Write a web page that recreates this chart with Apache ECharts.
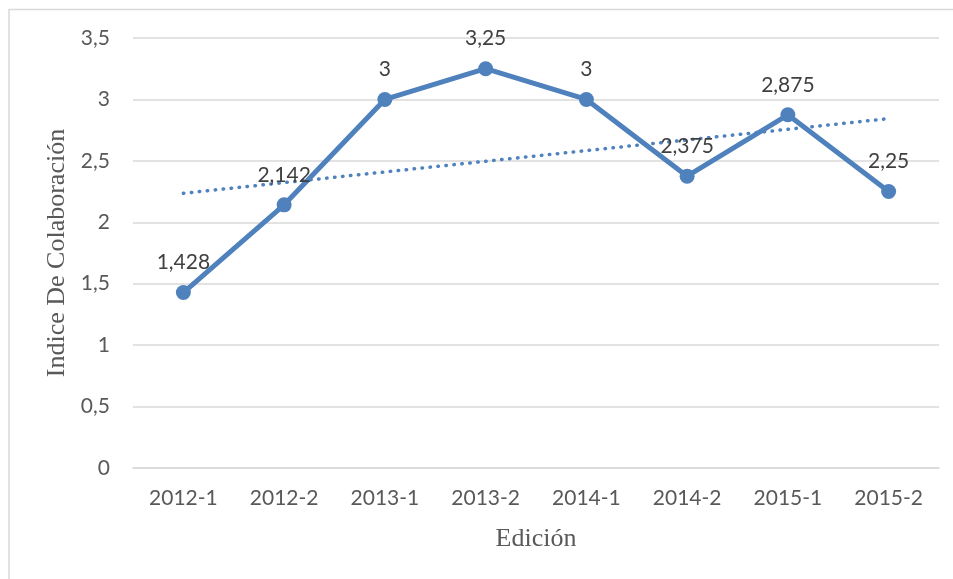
<!DOCTYPE html>
<html><head><meta charset="utf-8">
<script src="https://cdn.jsdelivr.net/npm/echarts@6/dist/echarts.min.js"></script>
<style>html,body{margin:0;padding:0;background:#fff}#c{width:953px;height:579px}</style>
</head><body><div id="c"></div>
<script>
const categories = ['2012-1','2012-2','2013-1','2013-2','2014-1','2014-2','2015-1','2015-2'];
const values = [1.428, 2.142, 3, 3.25, 3, 2.375, 2.875, 2.25];
const yTicks = [0, 0.5, 1, 1.5, 2, 2.5, 3, 3.5];

// linear trendline (least squares) computed from the series values
const n = values.length;
const mx = (n + 1) / 2;
const my = values.reduce((a, b) => a + b, 0) / n;
let sxy = 0, sxx = 0;
values.forEach((v, i) => { const x = i + 1; sxy += (x - mx) * (v - my); sxx += (x - mx) * (x - mx); });
const slope = sxy / sxx;
const trend = values.map((v, i) => my + slope * (i + 1 - mx));

const fmt = v => String(v).replace('.', ',');
const blue = '#4f81bd';
const chart = echarts.init(document.getElementById('c'));
chart.setOption({
  animation: false,
  backgroundColor: '#fff',
  graphic: [{type: 'rect', shape: {x: 9, y: 9.5, width: 1000, height: 700}, style: {fill: 'none', stroke: '#d9d9d9', lineWidth: 1.5}, z: -1}],
  grid: {left: 133, right: 14, top: 38, bottom: 111},
  xAxis: {
    type: 'category', data: categories, boundaryGap: true,
    name: 'Edición', nameLocation: 'middle', nameGap: 58,
    nameTextStyle: {fontFamily: 'Liberation Serif', fontSize: 26, color: '#595959'},
    axisLine: {show: true, lineStyle: {color: '#d9d9d9', width: 1.5}},
    axisTick: {show: false},
    axisLabel: {fontFamily: 'Lato', fontSize: 21, color: '#595959', margin: 20}
  },
  yAxis: {
    type: 'value', min: 0, max: 3.5, interval: 0.5,
    name: 'Indice De Colaboración', nameLocation: 'middle', nameGap: 60,
    nameTextStyle: {fontFamily: 'Liberation Serif', fontSize: 26, color: '#595959'},
    axisLine: {show: false}, axisTick: {show: false},
    splitLine: {lineStyle: {color: '#d9d9d9', width: 1.5}},
    axisLabel: {fontFamily: 'Lato', fontSize: 21, color: '#595959', margin: 23, formatter: v => fmt(v)}
  },
  series: [
    {
      type: 'line', data: trend, symbol: 'none', z: 1,
      lineStyle: {color: blue, width: 3.5, type: [0.5, 7.5], cap: 'round'}
    },
    {
      type: 'line', data: values, symbol: 'circle', symbolSize: 15, z: 3,
      itemStyle: {color: blue},
      lineStyle: {color: blue, width: 5},
      label: {show: true, position: 'top', distance: 12, fontFamily: 'Lato', fontSize: 21, color: '#404040',
        formatter: p => fmt(p.value)}
    }
  ]
});
</script></body></html>
